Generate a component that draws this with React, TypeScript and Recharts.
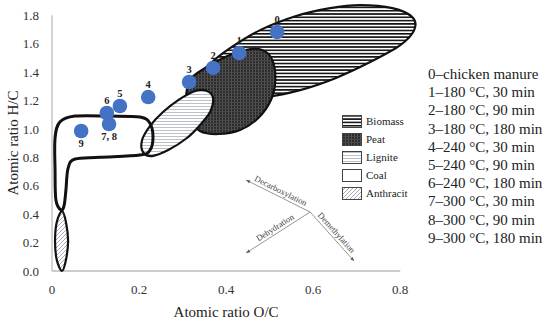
import React from 'react';
import { ScatterChart, Scatter, XAxis, YAxis, ReferenceLine, Legend } from 'recharts';

// ---------- data ----------
const xTicks = [0, 0.2, 0.4, 0.6, 0.8];
const yTicks = [0, 0.2, 0.4, 0.6, 0.8, 1.0, 1.2, 1.4, 1.6, 1.8];

const sampleIds = ['0', '1', '2', '3', '4', '5', '6', '7, 8', '9'];
const sampleOC = [0.517, 0.43, 0.37, 0.315, 0.221, 0.156, 0.126, 0.131, 0.067];
const sampleHC = [1.682, 1.534, 1.429, 1.33, 1.224, 1.161, 1.112, 1.034, 0.985];
const sampleLabelSide = ['top', 'top', 'top', 'top', 'top', 'top', 'top', 'bottom', 'bottom'];

const sampleNames = [
  '0\u2013chicken manure',
  '1\u2013180 \u00b0C, 30 min',
  '2\u2013180 \u00b0C, 90 min',
  '3\u2013180 \u00b0C, 180 min',
  '4\u2013240 \u00b0C, 30 min',
  '5\u2013240 \u00b0C, 90 min',
  '6\u2013240 \u00b0C, 180 min',
  '7\u2013300 \u00b0C, 30 min',
  '8\u2013300 \u00b0C, 90 min',
  '9\u2013300 \u00b0C, 180 min',
];

const regionNames = ['Biomass', 'Peat', 'Lignite', 'Coal', 'Anthracit'];

// region outlines (O/C, H/C)
const biomassOC = [0.33, 0.36, 0.409, 0.478, 0.559, 0.639, 0.708, 0.782, 0.828, 0.832, 0.8, 0.731, 0.651, 0.57, 0.49, 0.421, 0.36];
const biomassHC = [1.33, 1.449, 1.568, 1.695, 1.793, 1.85, 1.871, 1.85, 1.786, 1.695, 1.589, 1.47, 1.357, 1.273, 1.224, 1.217, 1.26];

const peatOC = [0.317, 0.352, 0.398, 0.444, 0.483, 0.506, 0.513, 0.503, 0.474, 0.432, 0.382, 0.34, 0.317, 0.308];
const peatHC = [1.344, 1.429, 1.506, 1.555, 1.555, 1.485, 1.344, 1.203, 1.077, 0.992, 0.964, 0.985, 1.077, 1.203];

const ligniteOC = [0.329, 0.356, 0.37, 0.363, 0.34, 0.31, 0.267, 0.23, 0.209, 0.207, 0.225, 0.255, 0.29];
const ligniteHC = [1.267, 1.267, 1.217, 1.119, 1.027, 0.936, 0.851, 0.809, 0.837, 0.922, 1.02, 1.119, 1.203];

const coalOC = [0.021, 0.009, 0.007, 0.007, 0.018, 0.053, 0.133, 0.202, 0.225, 0.232, 0.225, 0.202, 0.11, 0.053, 0.037, 0.032, 0.028];
const coalHC = [0.429, 0.5, 0.71, 0.935, 1.048, 1.09, 1.09, 1.083, 1.04, 0.942, 0.85, 0.816, 0.8, 0.788, 0.724, 0.57, 0.464];

const anthrOC = [0.023, 0.032, 0.037, 0.032, 0.023, 0.011, 0.007, 0.011];
const anthrHC = [0.422, 0.345, 0.211, 0.077, 0.0, 0.077, 0.211, 0.345];

// reaction arrows (left point first)
const arrowNames = ['Decarboxylation', 'Dehydration', 'Demethylation'];
const arrowOC = [[0.446, 0.593], [0.446, 0.593], [0.593, 0.694]];
const arrowHC = [[0.64, 0.415], [0.127, 0.415], [0.415, 0.07]];
const arrowHeadAt = ['start', 'start', 'end'];

// ---------- helpers ----------
const zip = (xs: number[], ys: number[]) => xs.map((x, i) => ({ x, y: ys[i] }));

const samples = sampleIds.map((id, i) => ({ x: sampleOC[i], y: sampleHC[i], id, side: sampleLabelSide[i] }));

function closedSmooth(pts: { x: number; y: number }[]) {
  const n = pts.length;
  if (!n) return '';
  let d = `M${pts[0].x},${pts[0].y}`;
  for (let i = 0; i < n; i++) {
    const p0 = pts[(i - 1 + n) % n];
    const p1 = pts[i];
    const p2 = pts[(i + 1) % n];
    const p3 = pts[(i + 2) % n];
    const c1x = p1.x + (p2.x - p0.x) / 6;
    const c1y = p1.y + (p2.y - p0.y) / 6;
    const c2x = p2.x - (p3.x - p1.x) / 6;
    const c2y = p2.y - (p3.y - p1.y) / 6;
    d += `C${c1x},${c1y} ${c2x},${c2y} ${p2.x},${p2.y}`;
  }
  return d + 'Z';
}

const regionLine = (fill: string, strokeWidth: number) => (props: any) => (
  <path d={closedSmooth(props.points || [])} fill={fill} stroke="#111" strokeWidth={strokeWidth} />
);

const font = "'Liberation Serif', serif";

const arrowLine = (name: string, headAt: string) => (props: any) => {
  const pts = props.points || [];
  if (pts.length < 2) return <g />;
  const a = pts[0];
  const b = pts[1];
  const ang = (Math.atan2(b.y - a.y, b.x - a.x) * 180) / Math.PI;
  const mx = (a.x + b.x) / 2;
  const my = (a.y + b.y) / 2;
  const tip = headAt === 'start' ? a : b;
  const from = headAt === 'start' ? b : a;
  const L = Math.hypot(tip.x - from.x, tip.y - from.y);
  const nx = (tip.x - from.x) / L;
  const ny = (tip.y - from.y) / L;
  const h = 4;
  const w = 1.6;
  const bx = tip.x - nx * h;
  const by = tip.y - ny * h;
  const head = `M${tip.x},${tip.y}L${bx - ny * w},${by + nx * w}L${bx + ny * w},${by - nx * w}Z`;
  return (
    <g>
      <line x1={a.x} y1={a.y} x2={b.x} y2={b.y} stroke="#8a8a8a" strokeWidth={0.9} />
      <path d={head} fill="#555" />
      <text
        transform={`translate(${mx},${my}) rotate(${ang})`}
        y={-3}
        textAnchor="middle"
        fontSize={8.6}
        fill="#444"
        fontFamily={font}
      >
        {name}
      </text>
    </g>
  );
};

const PointShape = (p: any) => {
  const above = p.payload.side === 'top';
  return (
    <g>
      <circle cx={p.cx} cy={p.cy} r={7.3} fill="#4472C4" />
      <text
        x={p.cx}
        y={above ? p.cy - 9 : p.cy + 16}
        textAnchor="middle"
        fontSize={10.5}
        fontWeight={600}
        fill="#222"
        fontFamily={font}
      >
        {p.payload.id}
      </text>
    </g>
  );
};

const fills: Record<string, string> = {
  Biomass: 'url(#pBiomass)',
  Peat: 'url(#pPeat)',
  Lignite: 'url(#pLignite)',
  Coal: '#ffffff',
  Anthracit: 'url(#pAnthr)',
};

const RegionLegend = () => (
  <div style={{ fontFamily: font, fontSize: 11, color: '#222' }}>
    {regionNames.map((n) => (
      <div key={n} style={{ display: 'flex', alignItems: 'center', height: 18 }}>
        <svg width={20} height={13} style={{ display: 'block' }}>
          <rect x={0.5} y={0.5} width={19} height={12} fill={fills[n]} stroke="#444" strokeWidth={1} />
        </svg>
        <span style={{ marginLeft: 4 }}>{n}</span>
      </div>
    ))}
  </div>
);

export default function App() {
  return (
    <div style={{ position: 'absolute', left: 0, top: 0, width: 550, height: 322, background: '#fff' }}>
      <svg width={0} height={0} style={{ position: 'absolute' }}>
        <defs>
          <pattern id="pBiomass" patternUnits="userSpaceOnUse" width={4} height={3.3}>
            <rect width={4} height={3.3} fill="#fff" />
            <rect y={0} width={4} height={1.6} fill="#111" />
          </pattern>
          <pattern id="pPeat" patternUnits="userSpaceOnUse" width={3} height={3}>
            <rect width={3} height={3} fill="#2c2c2c" />
            <rect width={1} height={3} fill="#555" />
            <rect width={3} height={1} fill="#474747" />
          </pattern>
          <pattern id="pLignite" patternUnits="userSpaceOnUse" width={4} height={3}>
            <rect width={4} height={3} fill="#fff" />
            <path d="M0 2 L1 1 L2 2 L3 1 L4 2" stroke="#aab0bd" strokeWidth={0.8} fill="none" />
          </pattern>
          <pattern id="pAnthr" patternUnits="userSpaceOnUse" width={4} height={4}>
            <rect width={4} height={4} fill="#fff" />
            <path d="M-1 1 L1 -1 M0 4 L4 0 M3 5 L5 3" stroke="#9aa1b0" strokeWidth={0.9} />
          </pattern>
        </defs>
      </svg>
      <ScatterChart width={550} height={322} margin={{ top: 1, right: 128, bottom: 3, left: 0 }}>
        <XAxis
          type="number"
          dataKey="x"
          domain={[0, 0.85]}
          ticks={xTicks}
          interval={0}
          axisLine={false}
          tickLine={false}
          tickMargin={8}
          height={48}
          tickFormatter={(v: number) => (v === 0 ? '0' : String(v))}
          tick={{ fontSize: 13, fill: '#333', fontFamily: font }}
          label={(props: any) => {
            const vb = props.viewBox || {};
            const cx = vb.x + (vb.width * 0.8) / 0.85 / 2;
            return (
              <text x={cx} y={317} textAnchor="middle" fontSize={15} fill="#222" fontFamily={font}>
                Atomic ratio O/C
              </text>
            );
          }}
        />
        <YAxis
          type="number"
          dataKey="y"
          domain={[0, 1.9]}
          ticks={yTicks}
          interval={0}
          axisLine={false}
          tickLine={false}
          tickMargin={7}
          width={52}
          tickFormatter={(v: number) => v.toFixed(1)}
          tick={{ fontSize: 13, fill: '#333', fontFamily: font }}
          label={(props: any) => {
            const vb = props.viewBox || {};
            const cy = vb.y + vb.height - ((vb.height * 1.8) / 1.9) / 2;
            return (
              <text
                transform={`translate(17.5,${cy}) rotate(-90)`}
                textAnchor="middle"
                fontSize={15}
                fill="#222"
                fontFamily={font}
              >
                Atomic ratio H/C
              </text>
            );
          }}
        />
        <ReferenceLine segment={[{ x: 0, y: 0 }, { x: 0.8, y: 0 }]} stroke="#999" strokeWidth={1.2} />
        <ReferenceLine segment={[{ x: 0, y: 0 }, { x: 0, y: 1.8 }]} stroke="#aaa" strokeWidth={1} />

        <Scatter data={zip(biomassOC, biomassHC)} isAnimationActive={false} shape={() => <g />} line={regionLine('url(#pBiomass)', 2.2)} />
        <Scatter data={zip(peatOC, peatHC)} isAnimationActive={false} shape={() => <g />} line={regionLine('url(#pPeat)', 2.2)} />
        <Scatter data={zip(ligniteOC, ligniteHC)} isAnimationActive={false} shape={() => <g />} line={regionLine('url(#pLignite)', 2.2)} />
        <Scatter data={zip(anthrOC, anthrHC)} isAnimationActive={false} shape={() => <g />} line={regionLine('url(#pAnthr)', 2.2)} />
        <Scatter data={zip(coalOC, coalHC)} isAnimationActive={false} shape={() => <g />} line={regionLine('none', 3)} />

        {arrowNames.map((n, i) => (
          <Scatter
            key={n}
            data={zip(arrowOC[i], arrowHC[i])}
            isAnimationActive={false}
            shape={() => <g />}
            line={arrowLine(n, arrowHeadAt[i])}
          />
        ))}

        <Scatter data={samples} isAnimationActive={false} shape={PointShape} />

        <Legend
          layout="vertical"
          align="center"
          verticalAlign="middle"
          content={() => <RegionLegend />}
          wrapperStyle={{ left: 342, top: 112, width: 90, height: 92 }}
        />
      </ScatterChart>
      <div
        style={{
          position: 'absolute',
          left: 428,
          top: 65,
          fontFamily: font,
          fontSize: 15,
          lineHeight: '18.2px',
          color: '#222',
          whiteSpace: 'nowrap',
        }}
      >
        {sampleNames.map((s) => (
          <div key={s}>{s}</div>
        ))}
      </div>
    </div>
  );
}
